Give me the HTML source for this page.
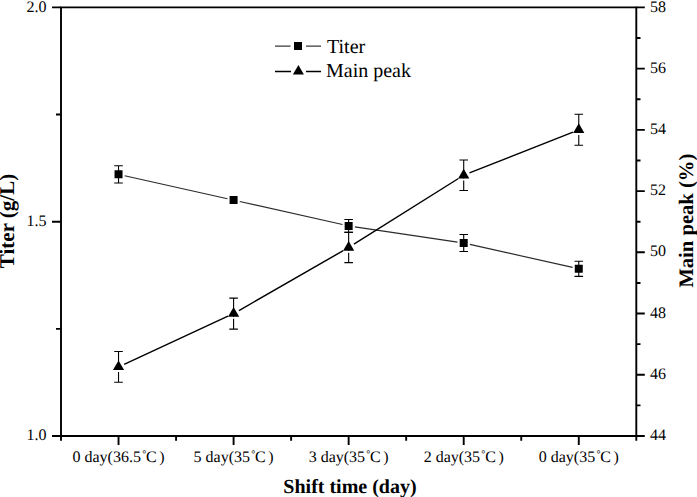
<!DOCTYPE html>
<html><head><meta charset="utf-8"><title>Titer and Main peak vs shift time</title>
<style>
html,body{margin:0;padding:0;background:#fff;}
body{width:697px;height:497px;overflow:hidden;font-family:"Liberation Serif",serif;}
svg{display:block;}
text{text-rendering:geometricPrecision;}
</style></head>
<body>
<svg width="697" height="497" viewBox="0 0 697 497">
<rect width="697" height="497" fill="#fff"/>
<path d="M61.0,7.4H636.3V436.0H61.0Z" fill="none" stroke="#000" stroke-width="1.9" stroke-linejoin="miter"/>
<path d="M52.0,436.00H61.0M56.0,328.85H61.0M52.0,221.70H61.0M56.0,114.55H61.0M52.0,7.40H61.0M636.3,436.00H644.8M636.3,405.39H640.5M636.3,374.77H644.8M636.3,344.16H640.5M636.3,313.54H644.8M636.3,282.93H640.5M636.3,252.31H644.8M636.3,221.70H640.5M636.3,191.09H644.8M636.3,160.47H640.5M636.3,129.86H644.8M636.3,99.24H640.5M636.3,68.63H644.8M636.3,38.01H640.5M636.3,7.40H644.8M61.00,436.0V440.7M118.53,436.0V445.0M176.06,436.0V440.7M233.59,436.0V445.0M291.12,436.0V440.7M348.65,436.0V445.0M406.18,436.0V440.7M463.71,436.0V445.0M521.24,436.0V440.7M578.77,436.0V445.0M636.30,436.0V440.7" fill="none" stroke="#000" stroke-width="1.9"/>
<text x="46.6" y="440.10" text-anchor="end" font-family="Liberation Serif" font-size="16" fill="#000">1.0</text>
<text x="46.6" y="225.80" text-anchor="end" font-family="Liberation Serif" font-size="16" fill="#000">1.5</text>
<text x="46.6" y="11.50" text-anchor="end" font-family="Liberation Serif" font-size="16" fill="#000">2.0</text>
<text x="650" y="440.10" font-family="Liberation Serif" font-size="16" fill="#000">44</text>
<text x="650" y="378.87" font-family="Liberation Serif" font-size="16" fill="#000">46</text>
<text x="650" y="317.64" font-family="Liberation Serif" font-size="16" fill="#000">48</text>
<text x="650" y="256.41" font-family="Liberation Serif" font-size="16" fill="#000">50</text>
<text x="650" y="195.19" font-family="Liberation Serif" font-size="16" fill="#000">52</text>
<text x="650" y="133.96" font-family="Liberation Serif" font-size="16" fill="#000">54</text>
<text x="650" y="72.73" font-family="Liberation Serif" font-size="16" fill="#000">56</text>
<text x="650" y="11.50" font-family="Liberation Serif" font-size="16" fill="#000">58</text>
<text x="118.53" y="462.3" text-anchor="middle" font-family="Liberation Serif" font-size="16" fill="#000">0 day(36.5<tspan font-size="10" dx="1.2" dy="-5.2">°</tspan><tspan dx="-0.18" dy="5.2">C</tspan><tspan dx="2.57">)</tspan></text>
<text x="233.59" y="462.3" text-anchor="middle" font-family="Liberation Serif" font-size="16" fill="#000">5 day(35<tspan font-size="10" dx="1.2" dy="-5.2">°</tspan><tspan dx="-0.18" dy="5.2">C</tspan><tspan dx="2.57">)</tspan></text>
<text x="348.65" y="462.3" text-anchor="middle" font-family="Liberation Serif" font-size="16" fill="#000">3 day(35<tspan font-size="10" dx="1.2" dy="-5.2">°</tspan><tspan dx="-0.18" dy="5.2">C</tspan><tspan dx="2.57">)</tspan></text>
<text x="463.71" y="462.3" text-anchor="middle" font-family="Liberation Serif" font-size="16" fill="#000">2 day(35<tspan font-size="10" dx="1.2" dy="-5.2">°</tspan><tspan dx="-0.18" dy="5.2">C</tspan><tspan dx="2.57">)</tspan></text>
<text x="578.77" y="462.3" text-anchor="middle" font-family="Liberation Serif" font-size="16" fill="#000">0 day(35<tspan font-size="10" dx="1.2" dy="-5.2">°</tspan><tspan dx="-0.18" dy="5.2">C</tspan><tspan dx="2.57">)</tspan></text>
<text x="350" y="492.8" text-anchor="middle" font-size="20" font-family="Liberation Serif" font-weight="bold" fill="#000">Shift time (day)</text>
<text transform="translate(14,221) rotate(-90)" x="0" y="0" text-anchor="middle" font-size="21" font-family="Liberation Serif" font-weight="bold" fill="#000">Titer (g/L)</text>
<text transform="translate(693,220.7) rotate(-90)" x="0" y="0" text-anchor="middle" font-size="20.6" font-family="Liberation Serif" font-weight="bold" fill="#000">Main peak (%)</text>
<path d="M124.68,175.73L227.44,198.72M239.74,201.48L342.50,224.52M354.88,226.83L457.48,242.07M469.86,244.38L572.62,267.42" fill="none" stroke="#2a2a2a" stroke-width="1.15"/>
<path d="M124.16,364.29L227.96,316.21M238.97,310.51L343.27,250.59M353.90,244.20L458.46,178.50M469.48,172.92L573.00,132.08" fill="none" stroke="#000" stroke-width="1.45"/>
<path d="M118.53,351.50V382.30M114.23,351.50h8.6M114.23,382.30h8.6M233.59,298.10V329.10M229.29,298.10h8.6M229.29,329.10h8.6M348.65,232.40V262.60M344.35,232.40h8.6M344.35,262.60h8.6M463.71,159.95V190.45M459.41,159.95h8.6M459.41,190.45h8.6M578.77,114.30V145.30M574.47,114.30h8.6M574.47,145.30h8.6" fill="none" stroke="#000" stroke-width="1.1"/>
<path d="M113.53,370.10h10v2.0h-10zM228.59,316.80h10v2.0h-10zM343.65,250.70h10v2.0h-10zM458.71,178.40h10v2.0h-10zM573.77,133.00h10v2.0h-10z" fill="#fff"/>
<path d="M118.53,360.40L124.13,370.10L112.93,370.10ZM233.59,307.10L239.19,316.80L227.99,316.80ZM348.65,241.00L354.25,250.70L343.05,250.70ZM463.71,168.70L469.31,178.40L458.11,178.40ZM578.77,123.30L584.37,133.00L573.17,133.00Z" fill="#000"/>
<path d="M118.53,165.75V182.95M114.23,165.75h8.6M114.23,182.95h8.6M348.65,219.50V232.30M344.35,219.50h8.6M344.35,232.30h8.6M463.71,234.50V251.50M459.41,234.50h8.6M459.41,251.50h8.6M578.77,261.20V276.40M574.47,261.20h8.6M574.47,276.40h8.6" fill="none" stroke="#000" stroke-width="1.1"/>
<path d="M114.53,170.35h8v8h-8zM229.59,196.10h8v8h-8zM344.65,221.90h8v8h-8zM459.71,239.00h8v8h-8zM574.77,264.80h8v8h-8z" fill="#000"/>
<path d="M275,46.2H290.5M306,46.2H321" stroke="#3a3a3a" stroke-width="1.2"/>
<path d="M294,42h8v8h-8z" fill="#000"/>
<path d="M275,71.5H291M306,71.5H321" stroke="#000" stroke-width="1.45"/>
<path d="M298.40,65.00L303.90,74.60L292.90,74.60Z" fill="#000"/>
<text x="327" y="52.6" font-family="Liberation Serif" font-size="20" fill="#000">Titer</text>
<text x="326" y="77.3" font-family="Liberation Serif" font-size="20" fill="#000">Main peak</text>
</svg>
</body></html>
